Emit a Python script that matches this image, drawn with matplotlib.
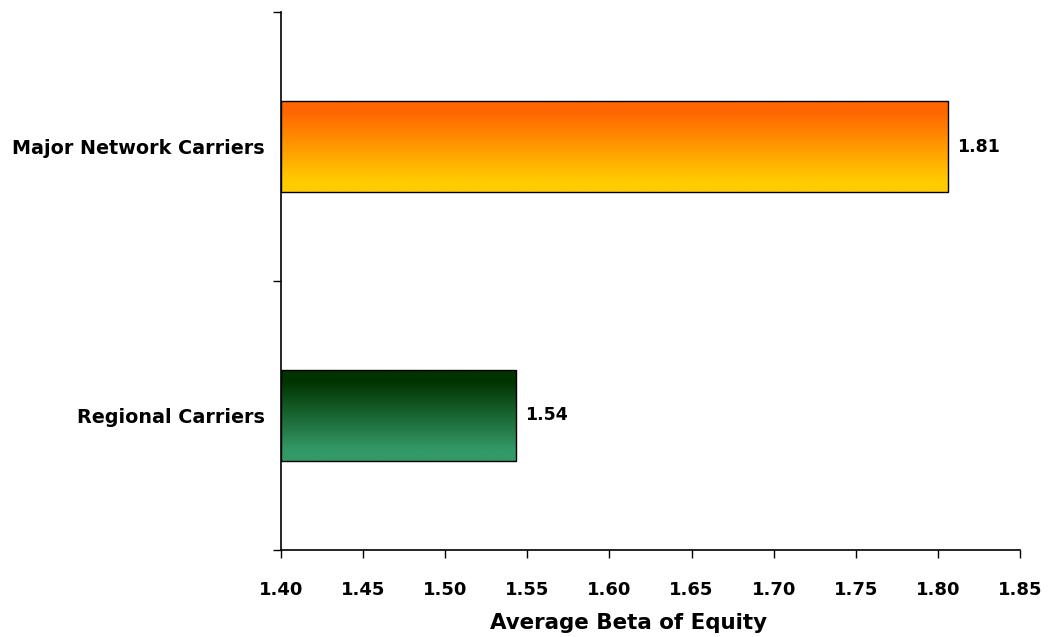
import numpy as np
import matplotlib
matplotlib.use("Agg")
import matplotlib.pyplot as plt
from matplotlib.colors import LinearSegmentedColormap

categories = ["Regional Carriers", "Major Network Carriers"]
beta_values = [1.543, 1.806]
x_ticks = [1.40, 1.45, 1.50, 1.55, 1.60, 1.65, 1.70, 1.75, 1.80, 1.85]
x_label = "Average Beta of Equity"

# top colour -> bottom colour of each bar's vertical gradient
gradients = [("#003300", "#339966"), ("#FF6600", "#FFCC00")]

plt.rcParams["font.family"] = ["DejaVu Sans"]
fig = plt.figure(figsize=(10.48, 6.37), dpi=100)
ax = fig.add_axes([281 / 1048, 1 - 550 / 637, 739 / 1048, 538 / 637])

xmin, xmax = 1.40, 1.85
ax.set_xlim(xmin, xmax)
ax.set_ylim(-0.5, 1.5)

bar_h = 0.335
bars = ax.barh(range(len(categories)), [v - xmin for v in beta_values], left=xmin,
               height=bar_h, color="none", edgecolor="black", linewidth=1.0, zorder=3)

for i, (bar, (top, bottom)) in enumerate(zip(bars, gradients)):
    cmap = LinearSegmentedColormap.from_list(
        f"g{i}", [(0.0, top), (0.12, top), (0.88, bottom), (1.0, bottom)])
    grad = np.linspace(0, 1, 256).reshape(-1, 1)
    x0 = bar.get_x()
    y0 = bar.get_y()
    img = ax.imshow(grad, cmap=cmap, aspect="auto", origin="upper",
                    extent=[x0, x0 + bar.get_width(), y0, y0 + bar.get_height()],
                    zorder=2, interpolation="bilinear")
    img.set_clip_path(bar)
    ax.text(beta_values[i] + 0.0055, i, f"{beta_values[i]:.2f}", ha="left", va="center",
            fontsize=12.5, fontweight="bold", color="black")

ax.set_xlim(xmin, xmax)
ax.set_ylim(-0.5, 1.5)

ax.set_xticks(x_ticks)
ax.set_xticklabels([f"{t:.2f}" for t in x_ticks], fontsize=13, fontweight="bold")
ax.set_yticks([-0.5, 0.5, 1.5])
ax.set_yticklabels([])
ax.set_yticks(range(len(categories)), minor=True)
ax.set_yticklabels(categories, minor=True, fontsize=13.8, fontweight="bold")
ax.tick_params(axis="y", which="minor", length=0, pad=11.5)
ax.tick_params(axis="y", which="major", length=6, width=1)
ax.tick_params(axis="x", length=6, width=1, pad=16)

ax.set_xlabel(x_label, fontsize=15.4, fontweight="bold")
ax.xaxis.set_label_coords((628 - 281) / 739, -63 / 538)

for s in ["top", "right"]:
    ax.spines[s].set_visible(False)
for s in ["left", "bottom"]:
    ax.spines[s].set_linewidth(1.2)

fig.savefig("out.png", dpi=100)
